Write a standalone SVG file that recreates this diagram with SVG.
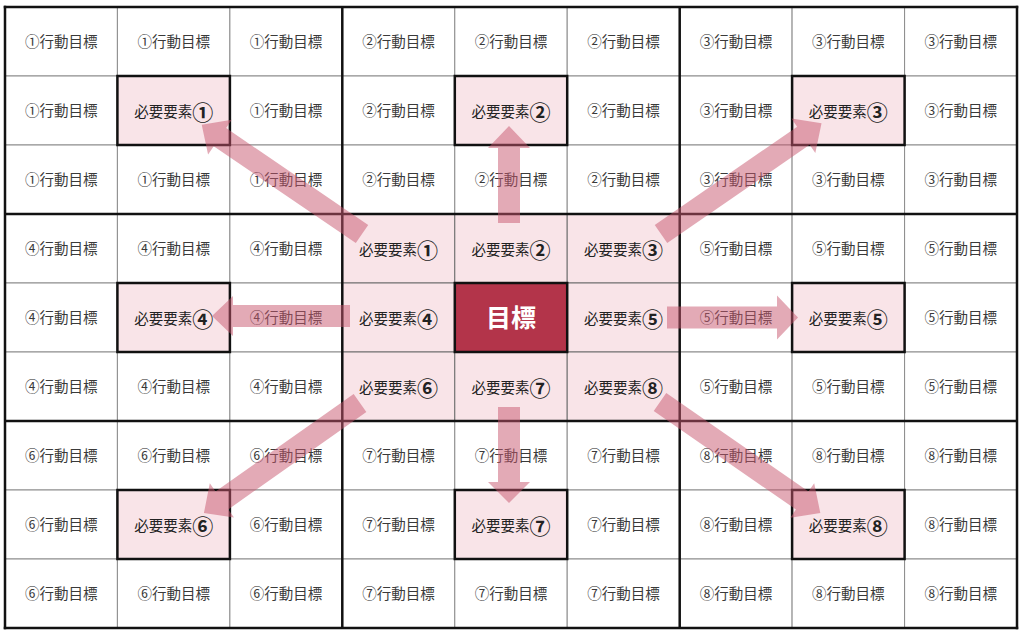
<svg xmlns="http://www.w3.org/2000/svg" width="1024" height="636" viewBox="0 0 1024 636">
<style>
  .n rect{fill:#ffffff;stroke:#8c8c8c;stroke-width:1}
  .p rect{fill:#f9e4e8;stroke:#6e6e6e;stroke-width:1}
  .k rect{fill:#f9e4e8;stroke:#111;stroke-width:2.5}
  .g rect{fill:#b3344a;stroke:#111;stroke-width:2.5}
  text{font-family:"Noto Sans CJK JP","Noto Sans",sans-serif;text-anchor:middle;dominant-baseline:central}
  .n text{font-size:14.5px;fill:#3a3a3a}
  .p text,.k text{font-size:14.5px;fill:#222}
  .p tspan,.k tspan{font-size:21px;font-weight:bold}
  .g text{font-size:25px;font-weight:bold;fill:#ffffff}
  .frame line{stroke:#111;stroke-width:2.5}
  .conn polygon{fill:#c8566e;fill-opacity:0.5}
</style>
<rect x="0" y="0" width="1024" height="636" fill="#ffffff"/>
<g transform="translate(0,-1)">
<!-- row 0 -->
<g id="r0c0" class="n"><rect x="5" y="8" width="112.4" height="69"/><text x="61.2" y="41.5">①行動目標</text></g>
<g id="r0c1" class="n"><rect x="117.4" y="8" width="112.5" height="69"/><text x="173.7" y="41.5">①行動目標</text></g>
<g id="r0c2" class="n"><rect x="229.9" y="8" width="112.4" height="69"/><text x="286.1" y="41.5">①行動目標</text></g>
<g id="r0c3" class="n"><rect x="342.3" y="8" width="112.5" height="69"/><text x="398.6" y="41.5">②行動目標</text></g>
<g id="r0c4" class="n"><rect x="454.8" y="8" width="112.4" height="69"/><text x="511" y="41.5">②行動目標</text></g>
<g id="r0c5" class="n"><rect x="567.2" y="8" width="112.5" height="69"/><text x="623.4" y="41.5">②行動目標</text></g>
<g id="r0c6" class="n"><rect x="679.7" y="8" width="112.4" height="69"/><text x="735.9" y="41.5">③行動目標</text></g>
<g id="r0c7" class="n"><rect x="792.1" y="8" width="112.5" height="69"/><text x="848.3" y="41.5">③行動目標</text></g>
<g id="r0c8" class="n"><rect x="904.6" y="8" width="112.4" height="69"/><text x="960.8" y="41.5">③行動目標</text></g>
<!-- row 1 -->
<g id="r1c0" class="n"><rect x="5" y="77" width="112.4" height="69"/><text x="61.2" y="110.5">①行動目標</text></g>
<g id="r1c2" class="n"><rect x="229.9" y="77" width="112.4" height="69"/><text x="286.1" y="110.5">①行動目標</text></g>
<g id="r1c3" class="n"><rect x="342.3" y="77" width="112.5" height="69"/><text x="398.6" y="110.5">②行動目標</text></g>
<g id="r1c5" class="n"><rect x="567.2" y="77" width="112.5" height="69"/><text x="623.4" y="110.5">②行動目標</text></g>
<g id="r1c6" class="n"><rect x="679.7" y="77" width="112.4" height="69"/><text x="735.9" y="110.5">③行動目標</text></g>
<g id="r1c8" class="n"><rect x="904.6" y="77" width="112.4" height="69"/><text x="960.8" y="110.5">③行動目標</text></g>
<!-- row 2 -->
<g id="r2c0" class="n"><rect x="5" y="146" width="112.4" height="69"/><text x="61.2" y="179.5">①行動目標</text></g>
<g id="r2c1" class="n"><rect x="117.4" y="146" width="112.5" height="69"/><text x="173.7" y="179.5">①行動目標</text></g>
<g id="r2c2" class="n"><rect x="229.9" y="146" width="112.4" height="69"/><text x="286.1" y="179.5">①行動目標</text></g>
<g id="r2c3" class="n"><rect x="342.3" y="146" width="112.5" height="69"/><text x="398.6" y="179.5">②行動目標</text></g>
<g id="r2c4" class="n"><rect x="454.8" y="146" width="112.4" height="69"/><text x="511" y="179.5">②行動目標</text></g>
<g id="r2c5" class="n"><rect x="567.2" y="146" width="112.5" height="69"/><text x="623.4" y="179.5">②行動目標</text></g>
<g id="r2c6" class="n"><rect x="679.7" y="146" width="112.4" height="69"/><text x="735.9" y="179.5">③行動目標</text></g>
<g id="r2c7" class="n"><rect x="792.1" y="146" width="112.5" height="69"/><text x="848.3" y="179.5">③行動目標</text></g>
<g id="r2c8" class="n"><rect x="904.6" y="146" width="112.4" height="69"/><text x="960.8" y="179.5">③行動目標</text></g>
<!-- row 3 -->
<g id="r3c0" class="n"><rect x="5" y="215" width="112.4" height="69"/><text x="61.2" y="248.5">④行動目標</text></g>
<g id="r3c1" class="n"><rect x="117.4" y="215" width="112.5" height="69"/><text x="173.7" y="248.5">④行動目標</text></g>
<g id="r3c2" class="n"><rect x="229.9" y="215" width="112.4" height="69"/><text x="286.1" y="248.5">④行動目標</text></g>
<g id="r3c6" class="n"><rect x="679.7" y="215" width="112.4" height="69"/><text x="735.9" y="248.5">⑤行動目標</text></g>
<g id="r3c7" class="n"><rect x="792.1" y="215" width="112.5" height="69"/><text x="848.3" y="248.5">⑤行動目標</text></g>
<g id="r3c8" class="n"><rect x="904.6" y="215" width="112.4" height="69"/><text x="960.8" y="248.5">⑤行動目標</text></g>
<!-- row 4 -->
<g id="r4c0" class="n"><rect x="5" y="284" width="112.4" height="69"/><text x="61.2" y="317.5">④行動目標</text></g>
<g id="r4c2" class="n"><rect x="229.9" y="284" width="112.4" height="69"/><text x="286.1" y="317.5">④行動目標</text></g>
<g id="r4c6" class="n"><rect x="679.7" y="284" width="112.4" height="69"/><text x="735.9" y="317.5">⑤行動目標</text></g>
<g id="r4c8" class="n"><rect x="904.6" y="284" width="112.4" height="69"/><text x="960.8" y="317.5">⑤行動目標</text></g>
<!-- row 5 -->
<g id="r5c0" class="n"><rect x="5" y="353" width="112.4" height="69"/><text x="61.2" y="386.5">④行動目標</text></g>
<g id="r5c1" class="n"><rect x="117.4" y="353" width="112.5" height="69"/><text x="173.7" y="386.5">④行動目標</text></g>
<g id="r5c2" class="n"><rect x="229.9" y="353" width="112.4" height="69"/><text x="286.1" y="386.5">④行動目標</text></g>
<g id="r5c6" class="n"><rect x="679.7" y="353" width="112.4" height="69"/><text x="735.9" y="386.5">⑤行動目標</text></g>
<g id="r5c7" class="n"><rect x="792.1" y="353" width="112.5" height="69"/><text x="848.3" y="386.5">⑤行動目標</text></g>
<g id="r5c8" class="n"><rect x="904.6" y="353" width="112.4" height="69"/><text x="960.8" y="386.5">⑤行動目標</text></g>
<!-- row 6 -->
<g id="r6c0" class="n"><rect x="5" y="422" width="112.4" height="69"/><text x="61.2" y="455.5">⑥行動目標</text></g>
<g id="r6c1" class="n"><rect x="117.4" y="422" width="112.5" height="69"/><text x="173.7" y="455.5">⑥行動目標</text></g>
<g id="r6c2" class="n"><rect x="229.9" y="422" width="112.4" height="69"/><text x="286.1" y="455.5">⑥行動目標</text></g>
<g id="r6c3" class="n"><rect x="342.3" y="422" width="112.5" height="69"/><text x="398.6" y="455.5">⑦行動目標</text></g>
<g id="r6c4" class="n"><rect x="454.8" y="422" width="112.4" height="69"/><text x="511" y="455.5">⑦行動目標</text></g>
<g id="r6c5" class="n"><rect x="567.2" y="422" width="112.5" height="69"/><text x="623.4" y="455.5">⑦行動目標</text></g>
<g id="r6c6" class="n"><rect x="679.7" y="422" width="112.4" height="69"/><text x="735.9" y="455.5">⑧行動目標</text></g>
<g id="r6c7" class="n"><rect x="792.1" y="422" width="112.5" height="69"/><text x="848.3" y="455.5">⑧行動目標</text></g>
<g id="r6c8" class="n"><rect x="904.6" y="422" width="112.4" height="69"/><text x="960.8" y="455.5">⑧行動目標</text></g>
<!-- row 7 -->
<g id="r7c0" class="n"><rect x="5" y="491" width="112.4" height="69"/><text x="61.2" y="524.5">⑥行動目標</text></g>
<g id="r7c2" class="n"><rect x="229.9" y="491" width="112.4" height="69"/><text x="286.1" y="524.5">⑥行動目標</text></g>
<g id="r7c3" class="n"><rect x="342.3" y="491" width="112.5" height="69"/><text x="398.6" y="524.5">⑦行動目標</text></g>
<g id="r7c5" class="n"><rect x="567.2" y="491" width="112.5" height="69"/><text x="623.4" y="524.5">⑦行動目標</text></g>
<g id="r7c6" class="n"><rect x="679.7" y="491" width="112.4" height="69"/><text x="735.9" y="524.5">⑧行動目標</text></g>
<g id="r7c8" class="n"><rect x="904.6" y="491" width="112.4" height="69"/><text x="960.8" y="524.5">⑧行動目標</text></g>
<!-- row 8 -->
<g id="r8c0" class="n"><rect x="5" y="560" width="112.4" height="69"/><text x="61.2" y="593.5">⑥行動目標</text></g>
<g id="r8c1" class="n"><rect x="117.4" y="560" width="112.5" height="69"/><text x="173.7" y="593.5">⑥行動目標</text></g>
<g id="r8c2" class="n"><rect x="229.9" y="560" width="112.4" height="69"/><text x="286.1" y="593.5">⑥行動目標</text></g>
<g id="r8c3" class="n"><rect x="342.3" y="560" width="112.5" height="69"/><text x="398.6" y="593.5">⑦行動目標</text></g>
<g id="r8c4" class="n"><rect x="454.8" y="560" width="112.4" height="69"/><text x="511" y="593.5">⑦行動目標</text></g>
<g id="r8c5" class="n"><rect x="567.2" y="560" width="112.5" height="69"/><text x="623.4" y="593.5">⑦行動目標</text></g>
<g id="r8c6" class="n"><rect x="679.7" y="560" width="112.4" height="69"/><text x="735.9" y="593.5">⑧行動目標</text></g>
<g id="r8c7" class="n"><rect x="792.1" y="560" width="112.5" height="69"/><text x="848.3" y="593.5">⑧行動目標</text></g>
<g id="r8c8" class="n"><rect x="904.6" y="560" width="112.4" height="69"/><text x="960.8" y="593.5">⑧行動目標</text></g>
<!-- center block elements -->
<g id="c-el1" class="p"><rect x="342.3" y="215" width="112.5" height="69"/><text x="398.6" y="249.5">必要要素<tspan>①</tspan></text></g>
<g id="c-el2" class="p"><rect x="454.8" y="215" width="112.4" height="69"/><text x="511" y="249.5">必要要素<tspan>②</tspan></text></g>
<g id="c-el3" class="p"><rect x="567.2" y="215" width="112.5" height="69"/><text x="623.4" y="249.5">必要要素<tspan>③</tspan></text></g>
<g id="c-el4" class="p"><rect x="342.3" y="284" width="112.5" height="69"/><text x="398.6" y="318.5">必要要素<tspan>④</tspan></text></g>
<g id="c-el5" class="p"><rect x="567.2" y="284" width="112.5" height="69"/><text x="623.4" y="318.5">必要要素<tspan>⑤</tspan></text></g>
<g id="c-el6" class="p"><rect x="342.3" y="353" width="112.5" height="69"/><text x="398.6" y="387.5">必要要素<tspan>⑥</tspan></text></g>
<g id="c-el7" class="p"><rect x="454.8" y="353" width="112.4" height="69"/><text x="511" y="387.5">必要要素<tspan>⑦</tspan></text></g>
<g id="c-el8" class="p"><rect x="567.2" y="353" width="112.5" height="69"/><text x="623.4" y="387.5">必要要素<tspan>⑧</tspan></text></g>
<!-- outer block elements -->
<g id="el1" class="k"><rect x="117.4" y="77" width="112.5" height="69"/><text x="173.7" y="111.5">必要要素<tspan>①</tspan></text></g>
<g id="el2" class="k"><rect x="454.8" y="77" width="112.4" height="69"/><text x="511" y="111.5">必要要素<tspan>②</tspan></text></g>
<g id="el3" class="k"><rect x="792.1" y="77" width="112.5" height="69"/><text x="848.3" y="111.5">必要要素<tspan>③</tspan></text></g>
<g id="el4" class="k"><rect x="117.4" y="284" width="112.5" height="69"/><text x="173.7" y="318.5">必要要素<tspan>④</tspan></text></g>
<g id="el5" class="k"><rect x="792.1" y="284" width="112.5" height="69"/><text x="848.3" y="318.5">必要要素<tspan>⑤</tspan></text></g>
<g id="el6" class="k"><rect x="117.4" y="491" width="112.5" height="69"/><text x="173.7" y="525.5">必要要素<tspan>⑥</tspan></text></g>
<g id="el7" class="k"><rect x="454.8" y="491" width="112.4" height="69"/><text x="511" y="525.5">必要要素<tspan>⑦</tspan></text></g>
<g id="el8" class="k"><rect x="792.1" y="491" width="112.5" height="69"/><text x="848.3" y="525.5">必要要素<tspan>⑧</tspan></text></g>
<!-- goal -->
<g id="goal" class="g"><rect x="454.8" y="284" width="112.4" height="69"/><text x="511" y="317">目標</text></g>
</g>
<!-- block frame -->
<g id="frame" class="frame">
  <line x1="5" y1="5.75" x2="5" y2="629.25"/>
  <line x1="342.3" y1="7" x2="342.3" y2="628"/>
  <line x1="679.7" y1="7" x2="679.7" y2="628"/>
  <line x1="1017" y1="5.75" x2="1017" y2="629.25"/>
  <line x1="3.75" y1="7" x2="1018.25" y2="7"/>
  <line x1="5" y1="214" x2="1017" y2="214"/>
  <line x1="5" y1="421" x2="1017" y2="421"/>
  <line x1="3.75" y1="628" x2="1018.25" y2="628"/>
</g>
<!-- connectors -->
<g id="connectors" class="conn">
  <polygon transform="translate(362,234) rotate(214.3)" points="0,-11 172,-11 172,-21 194,0 172,21 172,11 0,11"/>
  <polygon transform="translate(509,223) rotate(-90)" points="0,-11 75,-11 75,-21 97,0 75,21 75,11 0,11"/>
  <polygon transform="translate(661,234) rotate(-34.6)" points="0,-11 173,-11 173,-21 195,0 173,21 173,11 0,11"/>
  <polygon transform="translate(350,316) rotate(180)" points="0,-11 117,-11 117,-20 138,0 117,20 117,11 0,11"/>
  <polygon transform="translate(667,317.5)" points="0,-11 110,-11 110,-22 131,0 110,22 110,11 0,11"/>
  <polygon transform="translate(360,403) rotate(144.8)" points="0,-11 169,-11 169,-21 191,0 169,21 169,11 0,11"/>
  <polygon transform="translate(509,407) rotate(90)" points="0,-11 75,-11 75,-21 96,0 75,21 75,11 0,11"/>
  <polygon transform="translate(660,402) rotate(34.7)" points="0,-11 173,-11 173,-21 195,0 173,21 173,11 0,11"/>
</g>
</svg>
